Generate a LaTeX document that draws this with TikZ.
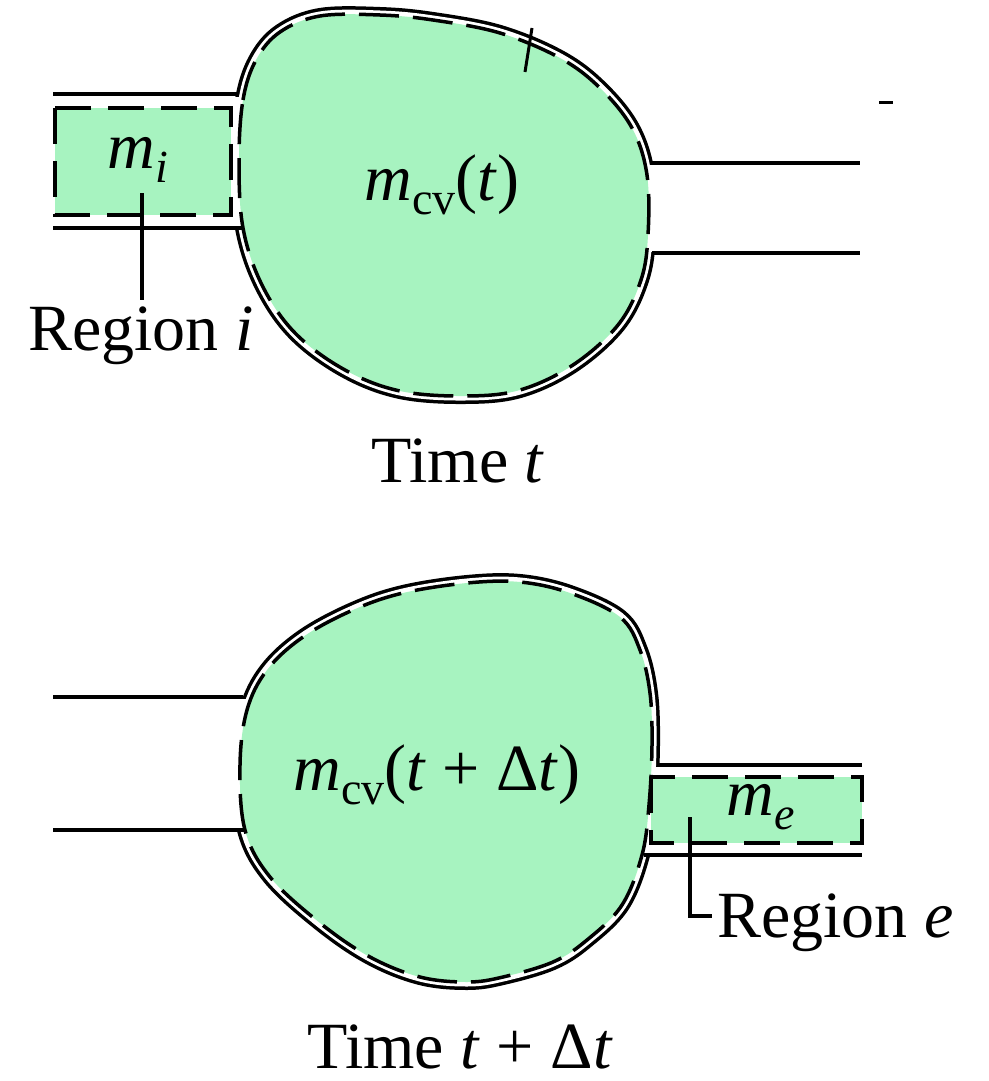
\documentclass[tikz,border=0pt]{standalone}
\usepackage{fontspec}
\setmainfont{Liberation Serif}
\definecolor{cvgreen}{RGB}{167,243,192}
\newcommand{\sbs}[1]{\raisebox{-0.22em}{\fontsize{46}{48}\selectfont #1}}
\tikzset{
  txt/.style={inner sep=0pt, font=\fontsize{66}{70}\selectfont},
  outerblack/.style={draw=black, line width=16pt},
  outerwhite/.style={draw=white, line width=9pt},
  cvdash/.style={draw=black, line width=3.5pt, dash pattern=on 40pt off 14pt},
  regdash/.style={draw=black, fill=cvgreen, line width=3.5pt, dash pattern=on 36pt off 17pt},
  pipe/.style={draw=black, line width=3.5pt},
  leader/.style={draw=black, line width=3.5pt},
}
\begin{document}
\begin{tikzpicture}[x=1pt,y=-1pt]
\useasboundingbox (0,0) rectangle (988,1081);
\def\topD{plot[smooth cycle, tension=0.6] coordinates {(239,160) (243,100) (256,60) (280,32) (320,16) (380,15) (433,20) (500,33) (560,58) (600,88) (632,128) (647,175) (648,235) (641,280) (618,325) (573,365) (520,390) (465,396) (400,391) (345,370) (295,333) (262,285) (243,228)}}
\def\botD{plot[smooth cycle, tension=0.6] coordinates {(240,765) (247,710) (267,670) (303,637) (353,610) (403,593) (467,583) (520,582) (570,593) (620,617) (640,650) (650,693) (652,745) (649,805) (642,855) (622,905) (587,940) (553,962) (503,977) (467,982) (420,977) (370,957) (320,923) (270,877) (245,830)}}
% ---------- top blob ----------
\path[outerblack] \topD;
\path[outerwhite] \topD;
\fill[white] (180,96.5) rectangle (252,226.5);
\fill[white] (635,164.5) rectangle (700,251.5);
\path[fill=cvgreen] \topD;
\path[cvdash] \topD;
\path[regdash] (55,108) rectangle (231,215);
\draw[pipe] (53,94) -- (238,94);
\draw[pipe] (53,228) -- (242,228);
\draw[pipe] (652,163) -- (860,163);
\draw[pipe] (652,253) -- (860,253);
\coordinate (tk1) at (532,28);
\coordinate (tk2) at (525,72);
\draw[line width=3pt] (tk1) -- (tk2);
\coordinate (ds1) at (879,102);
\coordinate (ds2) at (893,102);
\draw[line width=3pt] (ds1) -- (ds2);
\node[txt, anchor=base] (mi) at (138,168) {\textit{m}\sbs{\textit{i}}};
\node[txt, anchor=base] (mcv1) at (442,200) {\textit{m}\sbs{cv}(\textit{t})};
\node[txt, anchor=base] (regi) at (141,350) {Region \textit{i}};
\node[txt, anchor=base] (time1) at (458,482) {Time \textit{t}};
\coordinate (la) at (142,193);
\coordinate (lb) at (142,300);
\draw[leader] (la) -- (lb);
% ---------- bottom blob ----------
\path[outerblack] \botD;
\path[outerwhite] \botD;
\fill[white] (190,698.5) rectangle (255,828.5);
\fill[white] (638,766.5) rectangle (705,853.5);
\path[fill=cvgreen] \botD;
\path[cvdash] \botD;
\path[regdash] (651,777) rectangle (862,843);
\draw[pipe] (53,697) -- (243,697);
\draw[pipe] (53,830) -- (246,830);
\draw[pipe] (658,765) -- (862,765);
\draw[pipe] (644,855) -- (862,855);
\node[txt, anchor=base] (mcv2) at (437,790) {\textit{m}\sbs{cv}(\textit{t} + Δ\textit{t})};
\node[txt, anchor=base] (me) at (761,815) {\textit{m}\sbs{\textit{e}}};
\node[txt, anchor=base west] (rege) at (717,937) {Region \textit{e}};
\node[txt, anchor=base] (time2) at (460,1068) {Time \textit{t} + Δ\textit{t}};
\coordinate (lc) at (690,817);
\coordinate (ld) at (690,916);
\coordinate (le) at (712,916);
\draw[leader] (lc) -- (ld) -- (le);
\end{tikzpicture}
\end{document}
